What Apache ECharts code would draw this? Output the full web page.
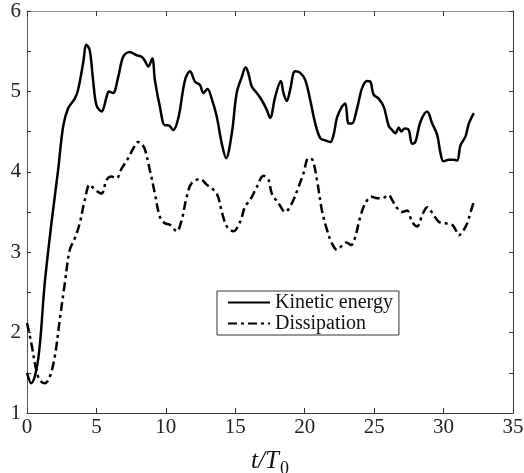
<!DOCTYPE html>
<html>
<head>
<meta charset="utf-8">
<script src="https://cdn.jsdelivr.net/npm/echarts@6/dist/echarts.min.js"></script>
<style>
html,body{margin:0;padding:0;background:#fff;}
#chart{width:524px;height:473px;}
</style>
</head>
<body>
<div id="chart"></div>
<script>
// t/T0 , value pairs
var kineticEnergy = [
[0,1.5],[0.3,1.37],[0.8,1.66],[1.28,2.62],[1.76,3.36],[2.24,4.02],[2.6,4.56],[2.96,4.79],[3.44,4.91],[3.68,5.02],
[4.04,5.35],[4.28,5.58],[4.52,5.51],[4.76,5.14],[5.0,4.83],[5.37,4.75],[5.73,4.93],[5.9,5.0],[6.2,4.98],[6.57,5.18],
[6.93,5.43],[7.4,5.49],[7.89,5.45],[8.25,5.43],[8.49,5.38],[8.73,5.31],[9.02,5.41],[9.21,5.14],[9.57,4.81],[9.93,4.58],
[10.17,4.58],[10.53,4.52],[10.9,4.67],[11.38,5.14],[11.74,5.25],[12.1,5.12],[12.46,5.08],[12.7,4.98],[13.0,5.03],[13.3,4.91],
[13.66,4.69],[14.03,4.35],[14.34,4.17],[14.75,4.48],[15.1,4.98],[15.47,5.18],[15.75,5.30],[15.95,5.22],[16.19,5.06],[16.55,4.98],
[16.91,4.89],[17.27,4.77],[17.51,4.67],[17.87,4.93],[18.28,5.13],[18.47,4.98],[18.71,4.88],[18.95,5.02],[19.31,5.25],[19.68,5.23],
[20.04,5.14],[20.4,4.89],[20.76,4.60],[21.12,4.42],[21.48,4.39],[21.84,4.37],[22.08,4.46],[22.32,4.67],[22.68,4.81],[22.92,4.85],
[23.16,4.60],[23.4,4.60],[23.77,4.79],[24.13,5.04],[24.49,5.13],[24.73,5.12],[24.96,4.96],[25.32,4.91],[25.69,4.81],[26.05,4.57],
[26.29,4.52],[26.53,4.48],[26.77,4.55],[26.96,4.50],[27.2,4.54],[27.49,4.52],[27.73,4.35],[27.97,4.37],[28.33,4.62],[28.82,4.75],
[29.18,4.60],[29.54,4.46],[29.78,4.23],[30.01,4.13],[30.38,4.15],[30.74,4.15],[30.98,4.14],[31.22,4.33],[31.58,4.44],[31.82,4.60],
[32.18,4.73]
];
var dissipation = [
[0,2.12],[0.31,1.87],[0.67,1.53],[0.92,1.41],[1.28,1.37],[1.64,1.45],[2.0,1.70],[2.36,2.16],[2.72,2.61],[3.08,3.03],
[3.44,3.17],[3.8,3.36],[4.16,3.65],[4.52,3.84],[4.88,3.78],[5.37,3.73],[5.73,3.90],[6.09,3.94],[6.45,3.92],[6.81,4.04],
[7.29,4.17],[7.65,4.29],[8.01,4.37],[8.25,4.35],[8.49,4.28],[8.85,4.02],[9.21,3.73],[9.57,3.44],[9.93,3.36],[10.3,3.34],
[10.78,3.26],[11.14,3.40],[11.5,3.69],[11.86,3.86],[12.46,3.91],[12.94,3.84],[13.66,3.73],[14.03,3.50],[14.39,3.32],[14.86,3.26],
[15.35,3.38],[15.71,3.57],[16.07,3.65],[16.55,3.81],[17.03,3.95],[17.39,3.90],[17.63,3.73],[18.11,3.61],[18.59,3.50],[19.08,3.61],
[19.55,3.81],[19.91,3.98],[20.27,4.17],[20.56,4.15],[20.88,3.90],[21.24,3.52],[21.6,3.28],[21.96,3.11],[22.32,3.03],[22.68,3.08],
[22.99,3.12],[23.35,3.09],[23.64,3.19],[24.0,3.44],[24.37,3.61],[24.8,3.69],[25.21,3.67],[25.57,3.67],[26.05,3.71],[26.29,3.65],
[26.65,3.55],[27.01,3.50],[27.37,3.52],[27.73,3.38],[28.1,3.32],[28.46,3.46],[28.82,3.56],[29.18,3.49],[29.65,3.38],[30.14,3.36],
[30.62,3.34],[30.86,3.28],[31.1,3.21],[31.46,3.28],[31.7,3.36],[31.95,3.50],[32.18,3.63]
];
var seriesNames = ['Kinetic energy', 'Dissipation'];
var xRange = [0, 35, 5];
var yRange = [1, 6, 0.5];

var FONT = '"Liberation Serif", "Times New Roman", Times, "DejaVu Serif", serif';
var chart = echarts.init(document.getElementById('chart'), null, {renderer: 'canvas'});

function xAx(pos, showLabel, lineColor) {
  return {
    type: 'value', position: pos, min: xRange[0], max: xRange[1], interval: xRange[2],
    axisLine: {show: true, onZero: false, lineStyle: {color: lineColor, width: 1}},
    axisTick: {show: true, inside: true, length: 5, lineStyle: {color: '#333'}},
    axisLabel: {show: showLabel, fontFamily: FONT, fontSize: 21, color: '#222', margin: 4},
    splitLine: {show: false}
  };
}
function yAx(pos, showLabel, lineColor) {
  return {
    type: 'value', position: pos, min: yRange[0], max: yRange[1], interval: yRange[2],
    axisLine: {show: true, onZero: false, lineStyle: {color: lineColor, width: 1}},
    axisTick: {show: true, inside: true, length: 4, lineStyle: {color: '#333'}},
    axisLabel: {show: showLabel, fontFamily: FONT, fontSize: 21, color: '#222', margin: 6,
      formatter: function (v) { return Math.abs(v - Math.round(v)) < 1e-9 ? String(Math.round(v)) : ''; }},
    splitLine: {show: false}
  };
}

var xBottom = xAx('bottom', true, '#333');
xBottom.name = '{i|t/T}{s|0}';
xBottom.nameLocation = 'middle';
xBottom.nameGap = 36;
xBottom.nameTextStyle = {
  rich: {
    i: {fontFamily: FONT, fontStyle: 'italic', fontSize: 25, lineHeight: 28, color: '#111', verticalAlign: 'top'},
    s: {fontFamily: FONT, fontSize: 18, lineHeight: 18, color: '#111', verticalAlign: 'top', padding: [11, 0, 0, 1]}
  }
};

var option = {
  animation: false,
  backgroundColor: '#fff',
  grid: {left: 27, right: 11, top: 11, bottom: 60, containLabel: false, outerBoundsMode: 'none'},
  xAxis: [xBottom, xAx('top', false, '#999')],
  yAxis: [yAx('left', true, '#555'), yAx('right', false, '#333')],
  legend: {
    orient: 'vertical', left: 217, top: 291,
    data: seriesNames,
    backgroundColor: '#fff',
    borderColor: '#333', borderWidth: 1, borderRadius: 0,
    padding: [1, 6, 1, 10],
    itemWidth: 42, itemHeight: 14, itemGap: 0,
    itemStyle: {opacity: 0},
    lineStyle: {width: 2},
    textStyle: {fontFamily: FONT, fontSize: 20, lineHeight: 21, color: '#111'}
  },
  series: [
    {
      name: seriesNames[0], type: 'line', data: kineticEnergy, xAxisIndex: 0, yAxisIndex: 0,
      showSymbol: false, symbol: 'none', smooth: 0.35,
      lineStyle: {color: '#000', width: 2.5, type: 'solid'}, itemStyle: {color: '#000'}
    },
    {
      name: seriesNames[1], type: 'line', data: dissipation, xAxisIndex: 0, yAxisIndex: 0,
      showSymbol: false, symbol: 'none', smooth: 0.35,
      lineStyle: {color: '#000', width: 2.5, type: [9, 4, 3, 4]}, itemStyle: {color: '#000'}
    }
  ]
};
chart.setOption(option);
</script>
</body>
</html>
